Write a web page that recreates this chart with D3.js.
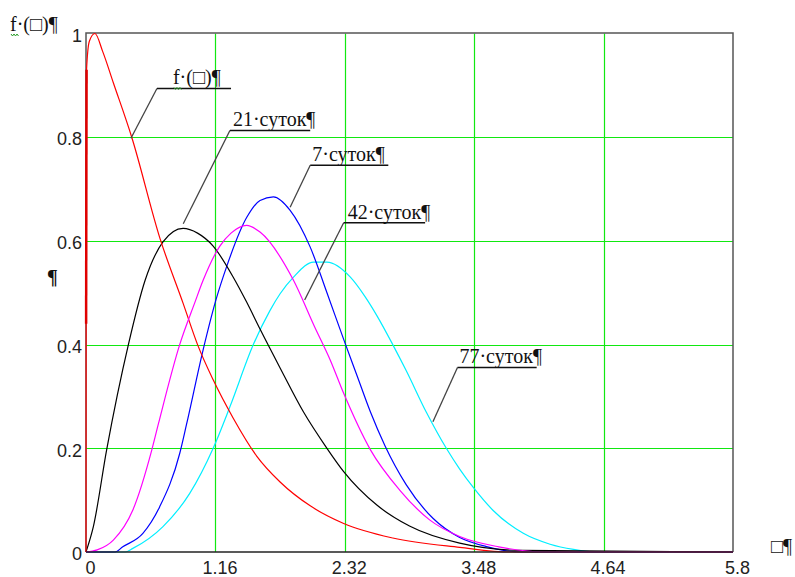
<!DOCTYPE html>
<html>
<head>
<meta charset="utf-8">
<script src="https://cdn.jsdelivr.net/npm/d3@7"></script>
<style>
body { margin: 0; background: #fff; }
</style>
</head>
<body>
<div id="chart"></div>
<script>
// axis ticks
const xTicks = [0, 1.16, 2.32, 3.48, 4.64, 5.8];
const yTicks = [0, 0.2, 0.4, 0.6, 0.8, 1];

// f(x) - red
const fX = [0, 0.001, 0.005, 0.03, 0.08, 0.15, 0.245, 0.41, 0.663, 0.87, 1.0, 1.14, 1.32, 1.53, 1.74, 2.01, 2.31, 2.75, 3.35, 3.8, 5.8];
const fY = [0, 0.44, 0.93, 0.985, 1.0, 0.965, 0.905, 0.80, 0.605, 0.48, 0.40, 0.332, 0.258, 0.185, 0.135, 0.089, 0.055, 0.027, 0.009, 0, 0];

// 21 суток - black
const d21X = [0, 0.006, 0.066, 0.185, 0.38, 0.53, 0.69, 0.87, 1.0, 1.14, 1.32, 1.44, 1.56, 1.74, 1.95, 2.16, 2.31, 2.61, 2.90, 3.35, 3.9, 5.8];
const d21Y = [0, 0.004, 0.049, 0.197, 0.40, 0.524, 0.598, 0.624, 0.615, 0.59, 0.53, 0.482, 0.43, 0.355, 0.27, 0.2, 0.155, 0.09, 0.05, 0.017, 0.003, 0];

// 7 суток - blue
const d7X = [0, 0.26, 0.33, 0.51, 0.66, 0.84, 0.90, 1.05, 1.17, 1.26, 1.44, 1.56, 1.68, 1.83, 2.01, 2.16, 2.31, 2.43, 2.55, 2.68, 2.87, 3.11, 3.35, 3.6, 3.9, 5.8];
const d7Y = [0, 0, 0.01, 0.036, 0.087, 0.19, 0.245, 0.39, 0.49, 0.55, 0.645, 0.678, 0.685, 0.659, 0.588, 0.50, 0.41, 0.34, 0.27, 0.205, 0.13, 0.065, 0.028, 0.01, 0, 0];

// 42 суток - magenta
const d42X = [0, 0.1, 0.245, 0.42, 0.59, 0.65, 0.84, 0.977, 1.05, 1.2, 1.3, 1.44, 1.56, 1.86, 2.05, 2.19, 2.31, 2.55, 2.81, 3.08, 3.35, 3.7, 4.1, 5.8];
const d42Y = [0, 0.004, 0.023, 0.081, 0.197, 0.248, 0.40, 0.482, 0.524, 0.59, 0.615, 0.63, 0.617, 0.524, 0.434, 0.37, 0.306, 0.197, 0.12, 0.062, 0.03, 0.01, 0, 0];

// 77 суток - cyan
const d77X = [0, 0.35, 0.42, 0.69, 0.93, 1.14, 1.29, 1.50, 1.65, 1.74, 1.86, 2.04, 2.16, 2.37, 2.5, 2.61, 2.75, 2.87, 3.05, 3.23, 3.35, 3.47, 3.65, 3.92, 4.16, 4.37, 4.58, 5.8];
const d77Y = [0, 0, 0.007, 0.049, 0.113, 0.2, 0.28, 0.40, 0.466, 0.498, 0.53, 0.559, 0.559, 0.53, 0.493, 0.455, 0.40, 0.35, 0.27, 0.20, 0.16, 0.125, 0.08, 0.036, 0.015, 0.005, 0, 0];

const series = [
    { xs: d77X, ys: d77Y, color: "#00eeff" },
    { xs: d7X, ys: d7Y, color: "#0000ff" },
    { xs: d21X, ys: d21Y, color: "#000000" },
    { xs: fX, ys: fY, color: "#ff0000" },
    { xs: d42X, ys: d42Y, color: "#ff00ff" }
];

// callouts: underline start (x, y), underline end x2, leader target (tx, ty)
const callouts = [
    { text: "f·(□)¶", x: 0.636, y: 0.894, x2: 1.30, tx: 0.403, ty: 0.798, dx: 16 },
    { text: "21·суток¶", x: 1.29, y: 0.813, x2: 2.01, tx: 0.872, ty: 0.633, dx: 3 },
    { text: "7·суток¶", x: 2.01, y: 0.746, x2: 2.71, tx: 1.83, ty: 0.665, dx: 2 },
    { text: "42·суток¶", x: 2.31, y: 0.635, x2: 3.04, tx: 1.96, ty: 0.486, dx: 4 },
    { text: "77·суток¶", x: 3.33, y: 0.356, x2: 4.04, tx: 3.11, ty: 0.251, dx: 2 }
];

const canvasWidth = 795;
const canvasHeight = 577;
const plot = { left: 86, right: 733, top: 33.5, bottom: 552 };
const gridColor = "#11e811";
const serif = "'Liberation Serif', 'Times New Roman', serif";
const sans = "'Liberation Sans', Arial, sans-serif";

const svg = d3.select("#chart")
    .append("svg")
    .attr("width", canvasWidth)
    .attr("height", canvasHeight)
    .style("background", "#fff");

const xScale = d3.scaleLinear().domain([0, 5.8]).range([plot.left, plot.right]);
const yScale = d3.scaleLinear().domain([0, 1]).range([plot.bottom, plot.top]);

// grid
svg.append("g")
    .selectAll("line")
    .data(xTicks.slice(1, -1))
    .enter()
    .append("line")
    .attr("x1", d => Math.round(xScale(d)) + 0.5)
    .attr("x2", d => Math.round(xScale(d)) + 0.5)
    .attr("y1", plot.top)
    .attr("y2", plot.bottom)
    .attr("stroke", gridColor)
    .attr("stroke-width", 1.2);

svg.append("g")
    .selectAll("line")
    .data(yTicks.slice(1, -1))
    .enter()
    .append("line")
    .attr("x1", plot.left)
    .attr("x2", plot.right)
    .attr("y1", d => Math.round(yScale(d)) + 0.5)
    .attr("y2", d => Math.round(yScale(d)) + 0.5)
    .attr("stroke", gridColor)
    .attr("stroke-width", 1.2);

// frame
svg.append("path")
    .attr("d", `M${plot.left},${plot.bottom}V${plot.top - 0.5}H${plot.right}V${plot.bottom}`)
    .attr("fill", "none")
    .attr("stroke", "#555")
    .attr("stroke-width", 1.5);

// axes (labels only)
const xAxis = d3.axisBottom(xScale).tickValues(xTicks).tickSize(0).tickPadding(9).tickFormat(d => String(d));
const yAxis = d3.axisLeft(yScale).tickValues(yTicks).tickSize(0).tickPadding(4).tickFormat(d => String(d));

const gx = svg.append("g")
    .attr("transform", `translate(4,${plot.bottom})`)
    .call(xAxis);
const gy = svg.append("g")
    .attr("transform", `translate(${plot.left},2)`)
    .call(yAxis);

[gx, gy].forEach(g => {
    g.select(".domain").remove();
    g.selectAll("text")
        .attr("font-family", sans)
        .attr("font-size", 18)
        .attr("fill", "#222");
});

// curves
const line = d3.line()
    .x(d => xScale(d[0]))
    .y(d => yScale(d[1]))
    .curve(d3.curveMonotoneX);

series.forEach(s => {
    svg.append("path")
        .datum(s.xs.map((x, i) => [x, s.ys[i]]))
        .attr("d", line)
        .attr("fill", "none")
        .attr("stroke", s.color)
        .attr("stroke-width", 1.2);
});

// steep start of f(x) drawn heavier along the axis
svg.append("line")
    .attr("x1", xScale(fX[1]))
    .attr("x2", xScale(fX[2]))
    .attr("y1", yScale(fY[1]))
    .attr("y2", yScale(fY[2]))
    .attr("stroke", "#e00000")
    .attr("stroke-width", 2.5);

// bottom axis line
svg.append("line")
    .attr("x1", plot.left)
    .attr("x2", plot.right)
    .attr("y1", plot.bottom)
    .attr("y2", plot.bottom)
    .attr("stroke", "#222")
    .attr("stroke-width", 1.5);

// callouts
const callout = svg.append("g").selectAll("g")
    .data(callouts)
    .enter()
    .append("g");

callout.append("line")
    .attr("x1", d => xScale(d.x))
    .attr("y1", d => yScale(d.y))
    .attr("x2", d => xScale(d.tx))
    .attr("y2", d => yScale(d.ty))
    .attr("stroke", "#444")
    .attr("stroke-width", 1.3);

callout.append("line")
    .attr("x1", d => xScale(d.x))
    .attr("y1", d => yScale(d.y))
    .attr("x2", d => xScale(d.x2))
    .attr("y2", d => yScale(d.y))
    .attr("stroke", "#111")
    .attr("stroke-width", 1.5);

callout.append("text")
    .attr("x", d => xScale(d.x) + d.dx)
    .attr("y", d => yScale(d.y) - 4)
    .attr("font-family", serif)
    .attr("font-size", 20)
    .attr("fill", "#111")
    .text(d => d.text);

// green squiggle under "f" of the callout
const squiggle = (x, y) => `M${x},${y} l1.5,2 l1.5,-2 l1.5,2 l1.5,-2 l1.5,2`;
svg.append("path")
    .attr("d", squiggle(xScale(callouts[0].x) + callouts[0].dx + 1, yScale(callouts[0].y) - 1))
    .attr("fill", "none")
    .attr("stroke", "#2a9d2a")
    .attr("stroke-width", 1);

// axis titles
svg.append("text")
    .attr("x", 10)
    .attr("y", 31)
    .attr("font-family", serif)
    .attr("font-size", 20)
    .attr("fill", "#111")
    .text("f·(□)¶");

svg.append("path")
    .attr("d", squiggle(11, 34))
    .attr("fill", "none")
    .attr("stroke", "#2a9d2a")
    .attr("stroke-width", 1);

svg.append("text")
    .attr("x", 47)
    .attr("y", 284)
    .attr("font-family", serif)
    .attr("font-size", 20)
    .attr("font-weight", "bold")
    .attr("fill", "#111")
    .text("¶");

svg.append("text")
    .attr("x", 771)
    .attr("y", 553)
    .attr("font-family", serif)
    .attr("font-size", 20)
    .attr("fill", "#111")
    .text("□¶");
</script>
</body>
</html>
